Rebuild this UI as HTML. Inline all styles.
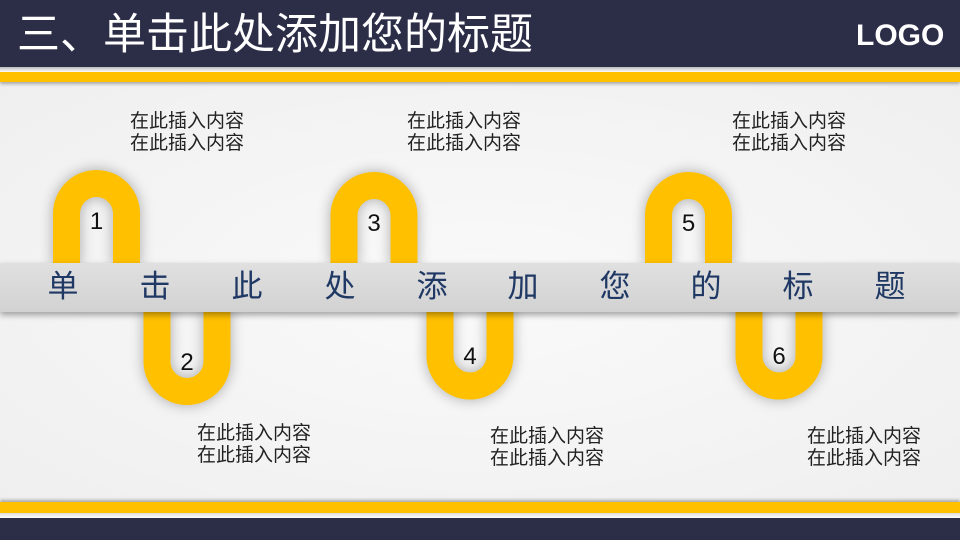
<!DOCTYPE html>
<html><head><meta charset="utf-8"><style>
*{margin:0;padding:0}
body{width:960px;height:540px;overflow:hidden;position:relative;background:#f2f2f2;font-family:"Liberation Sans","Noto Sans CJK SC",sans-serif}
.abs{position:absolute}
.lbl{position:absolute;font-size:19px;line-height:22px;color:#222;white-space:nowrap}
.bc{position:absolute;top:267px;font-size:31px;color:#1f3864;width:40px;text-align:center;line-height:40px}
</style></head><body>
<div class="abs" style="left:0;top:82px;width:960px;height:420px;background:radial-gradient(ellipse at 50% 50%,#fafafa,#efefef)"></div>
<div class="abs" style="left:0;top:0;width:960px;height:67px;background:#2c2e48"></div>
<div class="abs" style="left:0;top:67px;width:960px;height:5px;background:linear-gradient(#bbb,#fff)"></div>
<div class="abs" style="left:0;top:72px;width:960px;height:10px;background:#ffc000;box-shadow:0 2px 3px rgba(0,0,0,.3)"></div>
<div class="abs" style="left:17px;top:10px;font-size:43px;color:#fff;line-height:50px;white-space:nowrap">三、单击此处添加您的标题</div>
<div class="abs" style="left:856px;top:18px;font-size:30px;font-weight:bold;color:#fff;line-height:36px">LOGO</div>
<div class="abs" style="left:0;top:502px;width:960px;height:11px;background:#ffc000;box-shadow:0 -2px 3px rgba(0,0,0,.3)"></div>
<div class="abs" style="left:0;top:513px;width:960px;height:5px;background:linear-gradient(#ddd,#fff)"></div>
<div class="abs" style="left:0;top:518px;width:960px;height:22px;background:#2c2e48"></div>
<svg class="abs" style="left:0;top:0" width="960" height="540">
<defs><filter id="s" x="-50%" y="-50%" width="200%" height="200%"><feGaussianBlur stdDeviation="6"/></filter></defs>
<g fill="none" stroke="#000" stroke-opacity=".25" stroke-width="30" filter="url(#s)">
<path d="M66.5 265V213.5a30 30 0 0 1 60 0V265"/>
<path d="M157 310V361.5a30 30 0 0 0 60 0V310"/>
<path d="M344 265V215.5a30 30 0 0 1 60 0V265"/>
<path d="M440 310V356a30 30 0 0 0 60 0V310"/>
<path d="M658.5 265V215.5a30 30 0 0 1 60 0V265"/>
<path d="M749 310V356a30 30 0 0 0 60 0V310"/>
</g>
<g fill="none" stroke="#ffc000" stroke-width="27">
<path d="M66.5 265V213.5a30 30 0 0 1 60 0V265"/>
<path d="M157 310V361.5a30 30 0 0 0 60 0V310"/>
<path d="M344 265V215.5a30 30 0 0 1 60 0V265"/>
<path d="M440 310V356a30 30 0 0 0 60 0V310"/>
<path d="M658.5 265V215.5a30 30 0 0 1 60 0V265"/>
<path d="M749 310V356a30 30 0 0 0 60 0V310"/>
</g>
<g font-family="Liberation Sans" font-size="24" fill="#111" text-anchor="middle">
<text x="96.5" y="229">1</text><text x="187" y="370">2</text>
<text x="374" y="231">3</text><text x="470" y="364">4</text>
<text x="688.5" y="231">5</text><text x="779" y="364">6</text>
</g>
</svg>
<div class="abs" style="left:0;top:263px;width:960px;height:49px;background:linear-gradient(#e0e0e0,#d2d2d2);box-shadow:0 3px 6px rgba(0,0,0,.35)"></div>
<div class="bc" style="left:43px">单</div><div class="bc" style="left:135px">击</div>
<div class="bc" style="left:227px">此</div><div class="bc" style="left:320px">处</div>
<div class="bc" style="left:412px">添</div><div class="bc" style="left:503px">加</div>
<div class="bc" style="left:595px">您</div><div class="bc" style="left:686px">的</div>
<div class="bc" style="left:778px">标</div><div class="bc" style="left:870px">题</div>
<div class="lbl" style="left:130px;top:111px">在此插入内容<br>在此插入内容</div>
<div class="lbl" style="left:407px;top:111px">在此插入内容<br>在此插入内容</div>
<div class="lbl" style="left:732px;top:111px">在此插入内容<br>在此插入内容</div>
<div class="lbl" style="left:197px;top:423px">在此插入内容<br>在此插入内容</div>
<div class="lbl" style="left:490px;top:426px">在此插入内容<br>在此插入内容</div>
<div class="lbl" style="left:807px;top:426px">在此插入内容<br>在此插入内容</div>
</body></html>
